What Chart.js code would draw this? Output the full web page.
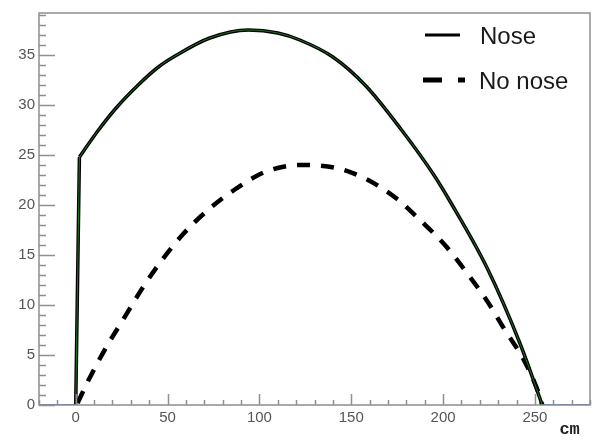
<!DOCTYPE html>
<html>
<head>
<meta charset="utf-8">
<script src="https://cdn.jsdelivr.net/npm/chart.js@4.4.1/dist/chart.umd.min.js"></script>
<style>
  html, body { margin: 0; padding: 0; background: #fff; }
  canvas { display: block; }
</style>
</head>
<body>
<canvas id="chart" width="592" height="440"></canvas>
<script>
// values (x in cm)
const noseX =   [0, 2,    12,   22,   34,   45,   55,   73,   94,   110,  122,  140,  158,  177,  195,  204,  224,  242, 254];
const noseY =   [0, 24.8, 27.4, 29.7, 32.0, 33.8, 35.0, 36.7, 37.5, 37.2, 36.5, 34.8, 31.9, 27.6, 23.0, 20.3, 13.7, 6.1, 0];
const noNoseX = [1,   7,   17,  26,  36,   47,   59,   72,   87,   103,  123,  142,  158,  175,  188,  201,  213,  224,  234, 244, 252, 254];
const noNoseY = [0.2, 2.5, 5.9, 8.6, 11.6, 14.5, 17.2, 19.5, 21.6, 23.3, 24.0, 23.7, 22.6, 20.6, 18.4, 16.0, 13.2, 10.4, 7.4, 4.5, 1.2, 0];
const baseLeftX = [-20, 0];
const baseRightX = [254, 280];
const seriesNames = ['Nose', 'No nose'];
const xTicks = [0, 50, 100, 150, 200, 250];
const yTicks = [0, 5, 10, 15, 20, 25, 30, 35];
const xMinorStep = 10, yMinorStep = 1;

const pts = (xs, ys) => xs.map((x, i) => ({ x: x, y: ys[i] }));
const flat = xs => xs.map(x => ({ x: x, y: 0 }));
const nosePts = pts(noseX, noseY);

const frameColor = '#8f8f8f';
const textColor = '#555';

// ROOT-like inward ticks, frame and legend
const rootFrame = {
  id: 'rootFrame',
  afterDraw(chart) {
    const { ctx, chartArea: a, scales: { x, y } } = chart;
    ctx.save();
    ctx.strokeStyle = frameColor;
    ctx.lineWidth = 1.5;
    ctx.strokeRect(a.left, a.top, a.right - a.left, a.bottom - a.top);
    ctx.beginPath();
    for (let v = -20; v <= 280; v += xMinorStep) {
      const px = Math.round(x.getPixelForValue(v)) + 0.5;
      const len = xTicks.includes(v) ? 11 : 5;
      ctx.moveTo(px, a.bottom);
      ctx.lineTo(px, a.bottom - len);
    }
    for (let v = 0; v <= 39; v += yMinorStep) {
      const py = Math.round(y.getPixelForValue(v)) + 0.5;
      const len = yTicks.includes(v) ? 16 : 7;
      ctx.moveTo(a.left, py);
      ctx.lineTo(a.left + len, py);
    }
    ctx.stroke();

    // legend
    ctx.fillStyle = '#1a1a1a';
    ctx.font = '24px "Liberation Sans", Arial, sans-serif';
    ctx.textBaseline = 'alphabetic';
    ctx.strokeStyle = '#000';
    ctx.setLineDash([]);
    ctx.lineWidth = 3;
    ctx.beginPath();
    ctx.moveTo(425, 35); ctx.lineTo(460, 35);
    ctx.stroke();
    ctx.fillText(seriesNames[0], 480, 44);
    ctx.lineWidth = 5;
    ctx.beginPath();
    ctx.moveTo(423, 80); ctx.lineTo(442, 80);
    ctx.moveTo(458, 80); ctx.lineTo(465, 80);
    ctx.stroke();
    ctx.fillText(seriesNames[1], 479, 89);
    ctx.restore();
  }
};

const noseStyle = { showLine: true, pointRadius: 0, cubicInterpolationMode: 'monotone' };

new Chart(document.getElementById('chart'), {
  type: 'scatter',
  data: {
    datasets: [
      // green core along the black curve
      { ...noseStyle, label: 'Nose core', data: nosePts.slice(1), borderColor: '#2f8f2f', borderWidth: 0.8, order: 0 },
      { ...noseStyle, label: 'Nose rise core', data: nosePts.slice(0, 2), borderColor: '#2f8f2f', borderWidth: 0.8, order: 0 },
      { ...noseStyle, label: seriesNames[0], data: nosePts.slice(1), borderColor: '#000', borderWidth: 3.5, order: 1 },
      { ...noseStyle, label: 'Nose rise', data: nosePts.slice(0, 2), borderColor: '#000', borderWidth: 3.5, order: 1 },
      {
        label: seriesNames[1],
        data: pts(noNoseX, noNoseY),
        showLine: true,
        borderColor: '#000',
        borderWidth: 4.5,
        borderDash: [13, 11],
        pointRadius: 0,
        cubicInterpolationMode: 'monotone',
        order: 2
      },
      { label: 'base left', data: flat(baseLeftX), showLine: true, borderColor: '#3f6ff5', borderWidth: 2, pointRadius: 0, order: 3 },
      { label: 'base right', data: flat(baseRightX), showLine: true, borderColor: '#3f6ff5', borderWidth: 2, pointRadius: 0, order: 3 }
    ]
  },
  options: {
    responsive: false,
    animation: false,
    layout: { padding: { left: 0, top: 9, right: 2, bottom: 0 } },
    plugins: {
      legend: { display: false },
      tooltip: { enabled: false }
    },
    scales: {
      x: {
        type: 'linear',
        min: -20,
        max: 280,
        grid: { display: false, drawTicks: false },
        border: { display: false },
        afterBuildTicks: s => { s.ticks = xTicks.map(v => ({ value: v })); },
        ticks: {
          color: textColor,
          font: { family: '"Liberation Sans", Arial, sans-serif', size: 15 },
          padding: 4
        },
        title: {
          display: true,
          text: 'cm ',
          align: 'end',
          color: '#222',
          font: { family: '"Liberation Mono", "DejaVu Sans Mono", monospace', size: 17, weight: 'bold' },
          padding: { top: 0, bottom: 0 }
        },
        afterFit: s => { s.height = 35; }
      },
      y: {
        type: 'linear',
        min: 0,
        max: 39.2,
        grid: { display: false, drawTicks: false },
        border: { display: false },
        afterBuildTicks: s => { s.ticks = yTicks.map(v => ({ value: v })); },
        ticks: {
          color: textColor,
          font: { family: '"Liberation Sans", Arial, sans-serif', size: 15 },
          padding: 4
        },
        afterFit: s => { s.width = 39; }
      }
    }
  },
  plugins: [rootFrame]
});
</script>
</body>
</html>
